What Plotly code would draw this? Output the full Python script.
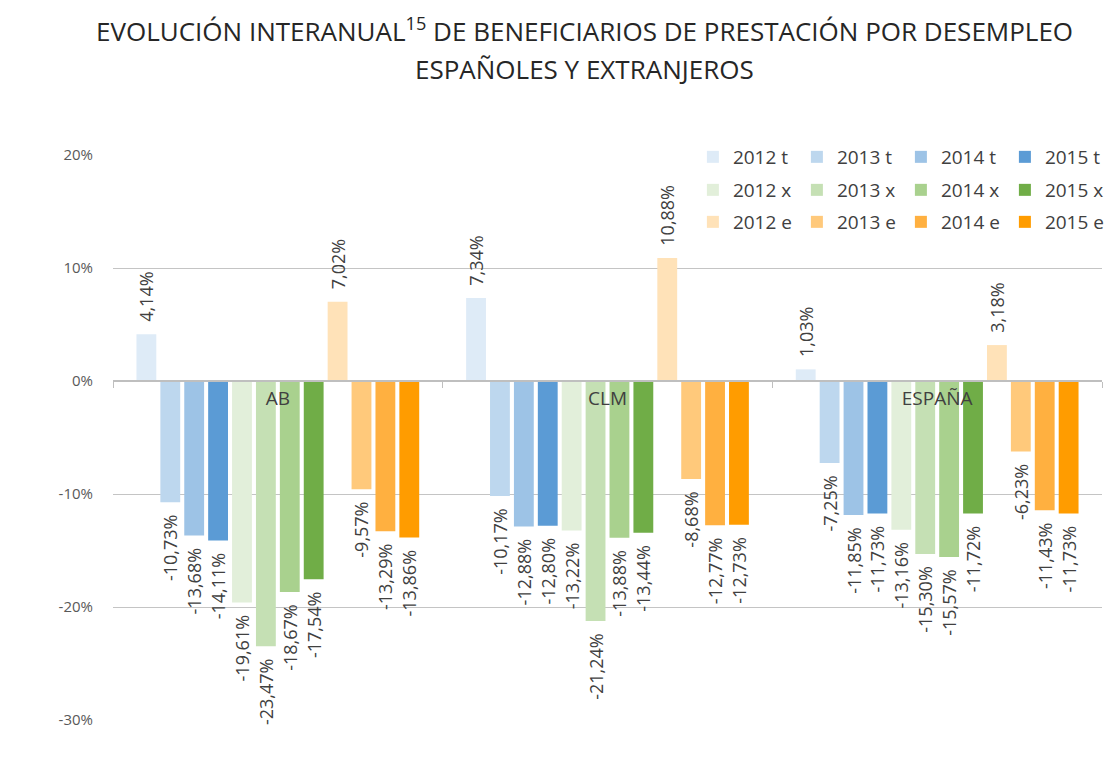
import plotly.graph_objects as go

categories = ["AB", "CLM", "ESPAÑA"]
series_names = ["2012 t", "2013 t", "2014 t", "2015 t",
                "2012 x", "2013 x", "2014 x", "2015 x",
                "2012 e", "2013 e", "2014 e", "2015 e"]

v2012_t = [4.14, 7.34, 1.03]
v2013_t = [-10.73, -10.17, -7.25]
v2014_t = [-13.68, -12.88, -11.85]
v2015_t = [-14.11, -12.80, -11.73]
v2012_x = [-19.61, -13.22, -13.16]
v2013_x = [-23.47, -21.24, -15.30]
v2014_x = [-18.67, -13.88, -15.57]
v2015_x = [-17.54, -13.44, -11.72]
v2012_e = [7.02, 10.88, 3.18]
v2013_e = [-9.57, -8.68, -6.23]
v2014_e = [-13.29, -12.77, -11.43]
v2015_e = [-13.86, -12.73, -11.73]

series_values = [v2012_t, v2013_t, v2014_t, v2015_t,
                 v2012_x, v2013_x, v2014_x, v2015_x,
                 v2012_e, v2013_e, v2014_e, v2015_e]

colors = ["#DEEBF7", "#BDD7EE", "#9DC3E6", "#5B9BD5",
          "#E2EFDA", "#C5E0B4", "#A9D18E", "#70AD47",
          "#FFE2B8", "#FFC97B", "#FFB040", "#FF9C00"]

y_ticks = [-30, -20, -10, 0, 10, 20]
y_tick_labels = ["-30%", "-20%", "-10%", "0%", "10%", "20%"]

FONT = "Open Sans"
TXT = "#404040"
PAD = "\u00a0\u00a0"


def fmt(v):
    s = f"{v:.2f}".replace(".", ",") + "%"
    # pad on the side that faces the bar (labels read bottom-to-top)
    return PAD + s if v >= 0 else s + PAD


# the page body adds an 8px offset; layout is computed in figure pixels
W, H = 1109, 757
L, R, T, B = 105, 8, 147, 45
PH = H - T - B
PW = W - L - R


def py(yfig):
    return (H - B - yfig) / PH


def px(xfig):
    return (xfig - L) / PW


fig = go.Figure()
legend_ids = ["legend", "legend2", "legend3"]
for i, (name, vals, col) in enumerate(zip(series_names, series_values, colors)):
    fig.add_trace(go.Bar(
        name=name, x=categories, y=vals,
        marker=dict(color=col, line=dict(width=0)),
        text=[fmt(v) for v in vals],
        textposition="outside", textangle=-90,
        textfont=dict(family=FONT, size=18, color=TXT),
        cliponaxis=False, constraintext="none",
        legend=legend_ids[i // 4],
        hoverinfo="name+y",
    ))

leg_common = dict(orientation="h", entrywidth=59, bgcolor="white",
                  font=dict(family=FONT, size=19, color=TXT),
                  xanchor="left", yanchor="middle", x=px(689),
                  tracegroupgap=0, itemclick=False)

fig.update_layout(
    width=W, height=H,
    margin=dict(l=L, r=R, t=T, b=B),
    paper_bgcolor="white", plot_bgcolor="white",
    barmode="group", bargap=0.13, bargroupgap=0.17,
    showlegend=True,
    legend=dict(**leg_common, y=py(149)),
    legend2=dict(**leg_common, y=py(182)),
    legend3=dict(**leg_common, y=py(214)),
    xaxis=dict(
        anchor="free", position=0.6,
        showline=True, linecolor="#BFBFBF", linewidth=2,
        ticks="outside", tickson="boundaries", ticklen=6, tickcolor="#BFBFBF",
        tickfont=dict(family=FONT, size=19, color=TXT),
        showgrid=False, zeroline=False,
    ),
    yaxis=dict(
        range=[-30, 20], tickvals=y_ticks, ticktext=y_tick_labels,
        showgrid=True, gridcolor="#C4C4C4", gridwidth=1,
        zeroline=False, showline=False, ticks="",
        ticklabelstandoff=19,
        tickfont=dict(family=FONT, size=15, color="#595959"),
    ),
    annotations=[
        dict(text="EVOLUCIÓN INTERANUAL<sup>15</sup> DE BENEFICIARIOS DE PRESTACIÓN POR DESEMPLEO",
             xref="paper", yref="paper", x=px(580), y=py(22),
             xanchor="center", yanchor="middle", showarrow=False,
             font=dict(family=FONT, size=26, color="#262626")),
        dict(text="ESPAÑOLES Y EXTRANJEROS",
             xref="paper", yref="paper", x=px(580), y=py(61),
             xanchor="center", yanchor="middle", showarrow=False,
             font=dict(family=FONT, size=26, color="#262626")),
    ],
)

fig.write_html("out.html")
